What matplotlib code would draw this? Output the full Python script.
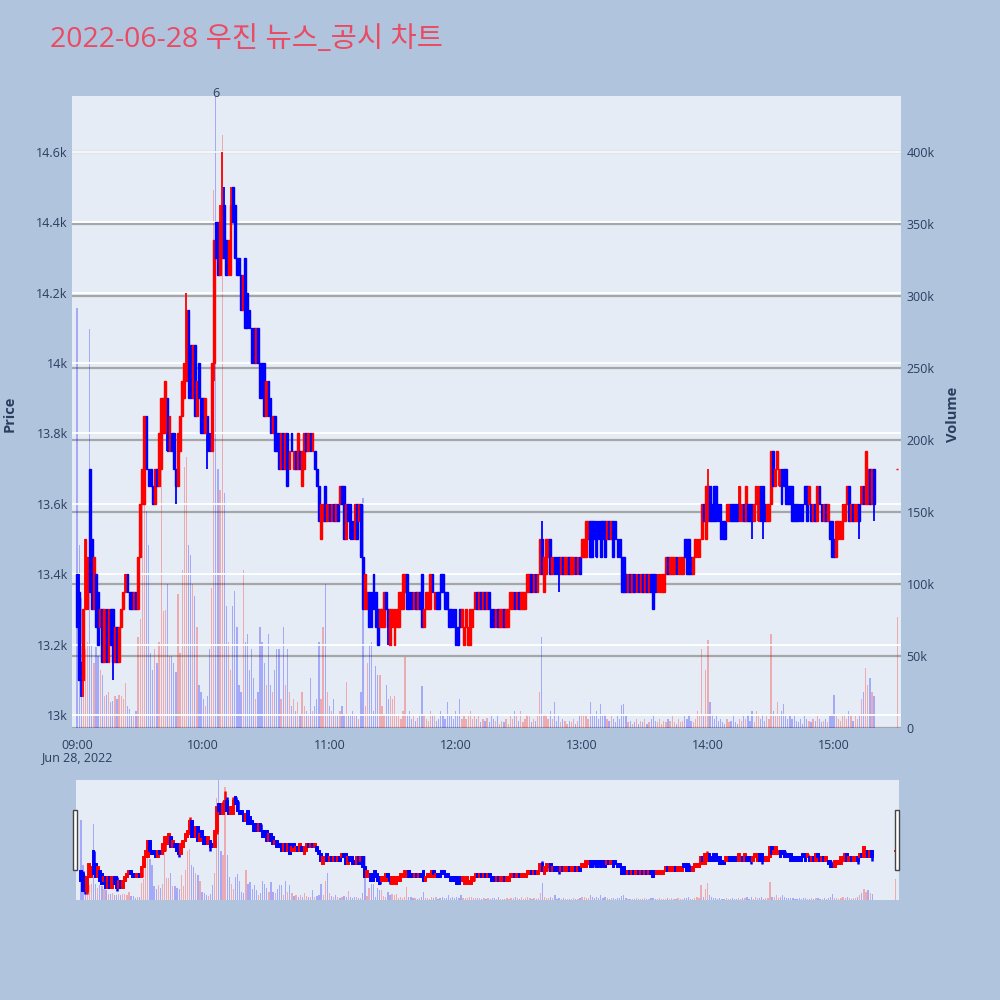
import numpy as np
import matplotlib.pyplot as plt
from matplotlib.patches import Rectangle

plt.rcParams['font.family'] = ['Open Sans', 'Noto Sans CJK KR', 'DejaVu Sans']

# minutes after 09:00 (regular session 09:00-15:19, closing price at 15:30)
minutes = list(range(380)) + [390]

opens = [
    13400, 13350, 13150, 13100, 13300, 13300, 13700, 13500, 13300, 13400,
    13350, 13250, 13300, 13150, 13300, 13150, 13300, 13300, 13150, 13250,
    13150, 13250, 13300, 13350, 13400, 13350, 13350, 13300, 13350, 13300,
    13450, 13600, 13600, 13850, 13700, 13700, 13650, 13600, 13700, 13650,
    13700, 13800, 13800, 13900, 13750, 13800, 13800, 13700, 13650, 13750,
    13850, 13900, 13950, 14150, 14050, 13900, 14050, 13850, 14000, 13900,
    13900, 13800, 13850, 13800, 13750, 14000, 14400, 14400, 14250, 14300,
    14450, 14350, 14250, 14250, 14500, 14450, 14300, 14300, 14250, 14150,
    14300, 14200, 14150, 14100, 14100, 14000, 14100, 14000, 14000, 14000,
    13850, 13950, 13900, 13800, 13850, 13800, 13800, 13700, 13800, 13700,
    13800, 13700, 13800, 13700, 13750, 13700, 13750, 13650, 13700, 13800,
    13750, 13800, 13750, 13750, 13700, 13650, 13500, 13550, 13650, 13550,
    13600, 13550, 13600, 13550, 13600, 13600, 13650, 13650, 13500, 13600,
    13600, 13550, 13500, 13600, 13550, 13600, 13450, 13300, 13300, 13350,
    13350, 13400, 13350, 13300, 13250, 13250, 13250, 13350, 13300, 13200,
    13250, 13200, 13250, 13250, 13300, 13300, 13350, 13400, 13350, 13350,
    13300, 13350, 13300, 13350, 13400, 13250, 13300, 13300, 13300, 13400,
    13300, 13350, 13350, 13400, 13400, 13350, 13350, 13300, 13300, 13300,
    13300, 13250, 13300, 13250, 13200, 13250, 13200, 13200, 13250, 13300,
    13350, 13300, 13350, 13300, 13350, 13300, 13350, 13300, 13300, 13250,
    13300, 13250, 13250, 13300, 13250, 13250, 13300, 13300, 13350, 13300,
    13350, 13300, 13300, 13300, 13350, 13350, 13400, 13350, 13400, 13350,
    13400, 13500, 13350, 13400, 13450, 13500, 13400, 13450, 13450, 13450,
    13400, 13450, 13400, 13400, 13450, 13400, 13400, 13450, 13400, 13450,
    13450, 13450, 13450, 13500, 13550, 13550, 13550, 13550, 13550, 13550,
    13550, 13550, 13500, 13550, 13500, 13550, 13550, 13500, 13500, 13450,
    13450, 13400, 13350, 13400, 13350, 13400, 13350, 13400, 13350, 13400,
    13350, 13400, 13350, 13400, 13400, 13400, 13350, 13350, 13350, 13350,
    13400, 13450, 13400, 13400, 13400, 13450, 13400, 13400, 13400, 13500,
    13500, 13500, 13450, 13400, 13450, 13450, 13450, 13500, 13600, 13500,
    13550, 13650, 13600, 13650, 13650, 13600, 13600, 13550, 13550, 13550,
    13550, 13600, 13600, 13600, 13600, 13550, 13550, 13600, 13550, 13600,
    13600, 13600, 13550, 13600, 13550, 13650, 13650, 13600, 13550, 13550,
    13600, 13750, 13650, 13700, 13650, 13700, 13700, 13700, 13650, 13650,
    13650, 13600, 13600, 13600, 13600, 13600, 13650, 13650, 13600, 13600,
    13550, 13600, 13550, 13650, 13600, 13550, 13600, 13550, 13550, 13550,
    13500, 13450, 13500, 13500, 13500, 13550, 13600, 13650, 13550, 13600,
    13550, 13550, 13600, 13600, 13650, 13600, 13600, 13700, 13600, 13700,
    13700,
]

closes = [
    13250, 13100, 13100, 13300, 13500, 13450, 13350, 13300, 13450, 13250,
    13200, 13300, 13150, 13300, 13150, 13300, 13200, 13150, 13250, 13150,
    13250, 13300, 13350, 13400, 13350, 13300, 13300, 13350, 13300, 13450,
    13600, 13700, 13850, 13700, 13650, 13650, 13600, 13700, 13650, 13800,
    13900, 13900, 13950, 13750, 13850, 13750, 13700, 13650, 13800, 13850,
    13950, 14000, 14150, 13900, 13900, 14050, 13850, 13950, 13900, 13800,
    13800, 13900, 13750, 13750, 14000, 14350, 14300, 14250, 14400, 14450,
    14300, 14250, 14350, 14450, 14400, 14300, 14250, 14250, 14150, 14250,
    14100, 14100, 14100, 14000, 14000, 14100, 14000, 13900, 13900, 13850,
    13950, 13850, 13800, 13850, 13750, 13750, 13700, 13800, 13700, 13800,
    13650, 13750, 13750, 13750, 13700, 13800, 13700, 13750, 13800, 13750,
    13800, 13750, 13800, 13700, 13650, 13550, 13600, 13600, 13550, 13600,
    13550, 13600, 13550, 13600, 13550, 13650, 13600, 13500, 13600, 13550,
    13500, 13500, 13600, 13500, 13600, 13450, 13300, 13400, 13350, 13250,
    13250, 13300, 13250, 13200, 13300, 13300, 13350, 13300, 13250, 13300,
    13300, 13300, 13300, 13350, 13350, 13400, 13400, 13300, 13300, 13300,
    13350, 13300, 13350, 13300, 13250, 13300, 13350, 13350, 13400, 13350,
    13350, 13300, 13300, 13350, 13350, 13300, 13300, 13250, 13250, 13250,
    13200, 13200, 13250, 13300, 13250, 13300, 13250, 13300, 13300, 13350,
    13300, 13350, 13300, 13350, 13300, 13350, 13300, 13250, 13250, 13300,
    13250, 13300, 13300, 13250, 13300, 13300, 13350, 13350, 13300, 13350,
    13300, 13350, 13350, 13350, 13400, 13400, 13350, 13400, 13350, 13400,
    13500, 13400, 13450, 13500, 13500, 13400, 13450, 13400, 13400, 13400,
    13450, 13400, 13450, 13450, 13400, 13450, 13450, 13400, 13450, 13400,
    13500, 13500, 13550, 13550, 13450, 13450, 13500, 13450, 13500, 13450,
    13500, 13450, 13550, 13500, 13550, 13450, 13500, 13450, 13450, 13350,
    13350, 13350, 13400, 13350, 13400, 13350, 13400, 13350, 13400, 13350,
    13400, 13350, 13400, 13350, 13300, 13350, 13400, 13400, 13400, 13400,
    13450, 13400, 13450, 13450, 13450, 13400, 13450, 13450, 13450, 13450,
    13400, 13400, 13400, 13450, 13500, 13500, 13500, 13600, 13550, 13650,
    13650, 13550, 13550, 13550, 13550, 13550, 13500, 13500, 13500, 13600,
    13600, 13550, 13550, 13550, 13550, 13650, 13600, 13550, 13650, 13550,
    13550, 13550, 13600, 13650, 13650, 13550, 13550, 13550, 13600, 13600,
    13750, 13650, 13700, 13750, 13700, 13600, 13650, 13600, 13600, 13600,
    13550, 13550, 13550, 13550, 13550, 13550, 13600, 13550, 13650, 13550,
    13600, 13550, 13650, 13600, 13550, 13600, 13550, 13600, 13500, 13450,
    13450, 13550, 13550, 13550, 13600, 13600, 13650, 13550, 13600, 13550,
    13600, 13600, 13550, 13650, 13600, 13750, 13700, 13600, 13700, 13600,
    13700,
]

# volume in thousands of shares
volumes_k = [
    292, 127, 90, 76, 55, 60, 277, 58, 45, 56,
    50, 40, 37, 22, 23, 25, 18, 19, 22, 20,
    23, 22, 20, 31, 15, 13, 8, 10, 12, 63,
    76, 173, 217, 151, 127, 52, 40, 55, 45, 60,
    186, 81, 82, 100, 50, 50, 45, 39, 93, 52,
    110, 181, 188, 127, 120, 100, 92, 70, 30, 25,
    20, 15, 22, 55, 97, 374, 480, 180, 165, 412,
    163, 85, 60, 40, 85, 95, 70, 30, 25, 110,
    60, 65, 40, 55, 35, 20, 25, 70, 60, 45,
    30, 65, 30, 25, 40, 55, 55, 20, 70, 30,
    55, 25, 15, 20, 12, 18, 10, 25, 15, 12,
    10, 35, 12, 15, 20, 60, 20, 70, 100, 25,
    15, 12, 20, 10, 8, 12, 15, 10, 32, 10,
    8, 12, 10, 8, 6, 25, 160, 15, 45, 58,
    60, 12, 43, 37, 37, 15, 10, 30, 20, 22,
    20, 22, 8, 10, 6, 12, 49, 10, 12, 6,
    8, 5, 7, 10, 29, 8, 6, 5, 12, 8,
    10, 5, 6, 12, 8, 6, 18, 8, 10, 6,
    12, 8, 20, 6, 8, 6, 10, 12, 6, 8,
    6, 8, 4, 6, 5, 7, 4, 8, 6, 5,
    10, 3, 5, 4, 6, 3, 8, 6, 12, 8,
    5, 12, 4, 6, 10, 8, 4, 6, 5, 8,
    25, 63, 10, 8, 6, 12, 6, 18, 5, 8,
    4, 6, 5, 3, 5, 4, 6, 3, 5, 8,
    10, 10, 8, 6, 18, 10, 8, 12, 6, 17,
    8, 10, 6, 5, 8, 6, 4, 8, 6, 16,
    17, 8, 4, 5, 3, 4, 6, 3, 5, 4,
    6, 3, 4, 6, 8, 5, 4, 6, 3, 5,
    4, 6, 5, 8, 4, 3, 6, 4, 5, 8,
    6, 10, 5, 4, 6, 12, 8, 55, 10, 40,
    61, 18, 10, 6, 8, 5, 6, 4, 3, 6,
    4, 5, 8, 4, 3, 6, 5, 8, 6, 10,
    5, 12, 4, 12, 8, 6, 10, 5, 8, 6,
    65, 12, 10, 18, 8, 12, 17, 10, 6, 8,
    6, 8, 5, 4, 6, 3, 8, 6, 5, 4,
    6, 5, 8, 6, 4, 5, 6, 4, 8, 10,
    23, 8, 6, 5, 8, 10, 6, 12, 8, 5,
    8, 6, 10, 20, 25, 42, 30, 35, 25, 22,
    77,
]

# wicks reaching past the candle bodies (minute -> price)
wick_high = {1: 13400, 52: 14200, 66: 14400, 68: 14450, 69: 14600, 70: 14500,
             73: 14500, 221: 13550, 300: 13700}
wick_low = {2: 13050, 3: 13050, 17: 13100, 47: 13600, 62: 13700, 65: 13950,
            148: 13200, 229: 13350, 321: 13500, 326: 13500, 372: 13500, 379: 13550}

news_minute = 66
news_count = '6'

time_ticks = [0, 60, 120, 180, 240, 300, 360]
time_labels = ['09:00', '10:00', '11:00', '12:00', '13:00', '14:00', '15:00']
price_ticks = [13000, 13200, 13400, 13600, 13800, 14000, 14200, 14400, 14600]
price_labels = ['13k', '13.2k', '13.4k', '13.6k', '13.8k', '14k', '14.2k', '14.4k', '14.6k']
vol_ticks = [0, 50, 100, 150, 200, 250, 300, 350, 400]
vol_labels = ['0', '50k', '100k', '150k', '200k', '250k', '300k', '350k', '400k']

# ---- derived arrays
x = np.array(minutes)
o = np.array(opens)
c = np.array(closes)
v = np.array(volumes_k) * 1000
hi = np.maximum(o, c)
lo = np.minimum(o, c)
for k, p in wick_high.items():
    hi[k] = max(hi[k], p)
for k, p in wick_low.items():
    lo[k] = min(lo[k], p)
up = c >= o
cols = np.where(up, '#FF0000', '#0000FF')

txt = '#2a3f5f'
bg = '#B0C4DE'
plot_bg = '#E5ECF6'
xlim = (-2.4, 391.8)
plim = (12963, 14759)
vlim = (0, 439000)

fig = plt.figure(figsize=(10, 10), dpi=100, facecolor=bg)


def draw(axv, axp, body_w, wick_lw, edge_lw, vol_w):
    axv.bar(x, v, width=vol_w, color=cols, alpha=0.28, linewidth=0, zorder=2)
    axp.vlines(x, lo, hi, colors=cols, linewidth=wick_lw, zorder=3)
    axp.bar(x, c - o, bottom=o, width=body_w, color=cols, edgecolor=cols,
            linewidth=edge_lw, zorder=4)
    axv.set_xlim(*xlim)
    axv.set_ylim(*vlim)
    axp.set_ylim(*plim)
    for a in (axv, axp):
        for s in a.spines.values():
            s.set_visible(False)


# ---- main chart
ax_v = fig.add_axes([0.072, 0.272, 0.829, 0.632])
ax_v.set_facecolor(plot_bg)
ax_p = ax_v.twinx()
ax_p.patch.set_visible(False)
draw(ax_v, ax_p, 0.85, 1.3, 1.0, 0.6)

ax_v.yaxis.tick_right()
ax_v.set_yticks([t * 1000 for t in vol_ticks])
ax_v.set_yticklabels(vol_labels)
ax_v.grid(axis='y', color='#a6a6a6', linewidth=1.6, zorder=0)
ax_v.set_axisbelow(True)
ax_v.tick_params(axis='y', length=0, pad=4, labelsize=9, labelcolor=txt,
                 labelright=True, labelleft=False)

ax_p.yaxis.tick_left()
ax_p.set_yticks(price_ticks)
ax_p.set_yticklabels(price_labels)
ax_p.grid(axis='y', color='white', linewidth=1.3, zorder=1)
ax_p.set_axisbelow(True)
ax_p.tick_params(axis='y', length=0, pad=3, labelsize=9, labelcolor=txt,
                 labelleft=True, labelright=False)

ax_v.set_xticks(time_ticks)
ax_v.set_xticklabels(time_labels)
ax_v.tick_params(axis='x', length=0, pad=8, labelsize=9, labelcolor=txt)
ax_p.tick_params(axis='x', length=0)

ax_p.text(news_minute, plim[1] + 8, news_count, ha='center', va='center',
          fontsize=9, color=txt)

fig.text(0.077, 0.242, 'Jun 28, 2022', ha='center', va='center', fontsize=9, color=txt)
fig.text(0.010, 0.586, 'Price', rotation=90, ha='center', va='center',
         fontsize=10.5, fontweight='bold', color=txt)
fig.text(0.953, 0.586, 'Volume', rotation=90, ha='center', va='center',
         fontsize=10.5, fontweight='bold', color=txt)
fig.text(0.05, 0.96, '2022-06-28 우진 뉴스_공시 차트', ha='left', va='center',
         fontsize=20.5, color='#EA4B62')

# ---- range slider
ax_sv = fig.add_axes([0.076, 0.100, 0.823, 0.120])
ax_sv.set_facecolor(plot_bg)
ax_sp = ax_sv.twinx()
ax_sp.patch.set_visible(False)
draw(ax_sv, ax_sp, 0.85, 1.8, 1.4, 0.6)
for a in (ax_sv, ax_sp):
    a.set_xticks([])
    a.set_yticks([])

for hx in (0.073, 0.895):
    fig.patches.append(Rectangle((hx, 0.130), 0.004, 0.060, transform=fig.transFigure,
                                 facecolor='white', edgecolor='#444444', linewidth=1))

fig.savefig('out.png', dpi=100, facecolor=bg)
